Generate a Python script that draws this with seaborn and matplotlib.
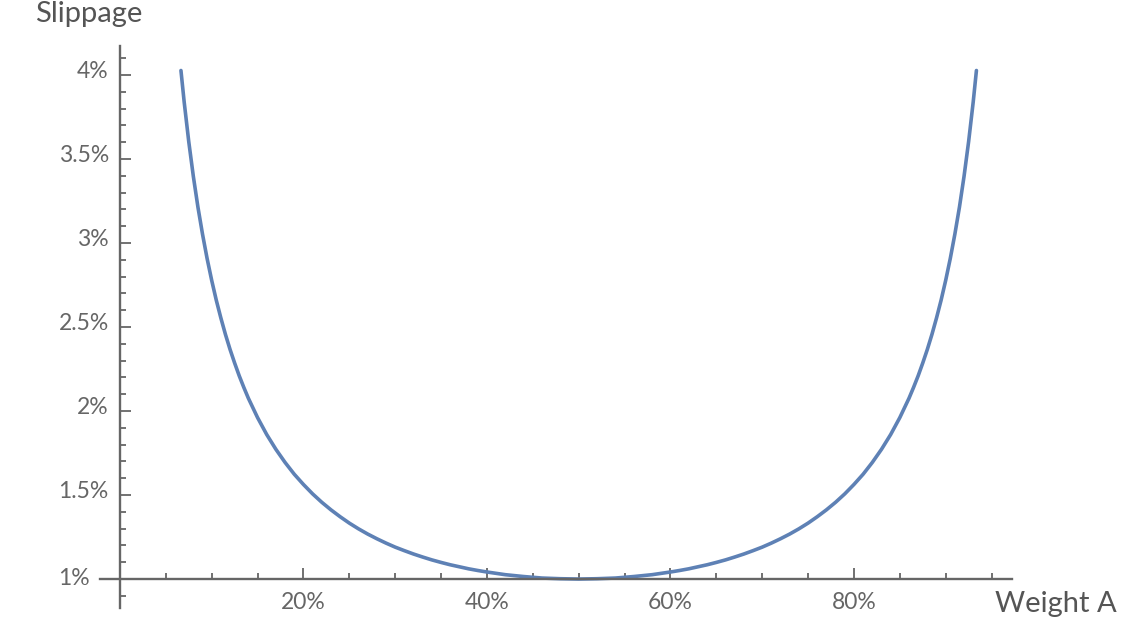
import matplotlib
matplotlib.use("Agg")
import matplotlib.pyplot as plt
import matplotlib.transforms as mtransforms
import seaborn as sns
import pandas as pd

# values (percent)
weight_a = [6.65, 7.0, 7.5, 8.0, 8.5, 9.0, 9.5, 10.0, 10.5, 11.0, 11.5, 12.0, 12.5, 13.0,
            13.5, 14.0, 15.0, 16.0, 17.0, 18.0, 19.0, 20.0, 21.0, 22.0, 23.0, 24.0, 25.0,
            26.0, 27.0, 28.0, 29.0, 30.0, 31.0, 32.0, 33.0, 34.0, 35.0, 36.0, 37.0, 38.0,
            39.0, 40.0, 42.0, 44.0, 46.0, 48.0, 50.0,
            52.0, 54.0, 56.0, 58.0, 60.0, 61.0, 62.0, 63.0, 64.0, 65.0, 66.0, 67.0, 68.0,
            69.0, 70.0, 71.0, 72.0, 73.0, 74.0, 75.0, 76.0, 77.0, 78.0, 79.0, 80.0, 81.0,
            82.0, 83.0, 84.0, 85.0, 86.0, 86.5, 87.0, 87.5, 88.0, 88.5, 89.0, 89.5, 90.0,
            90.5, 91.0, 91.5, 92.0, 92.5, 93.0, 93.35]
slippage = [4.027, 3.840, 3.604, 3.397, 3.214, 3.053, 2.908, 2.778, 2.660, 2.554, 2.456, 2.367,
            2.286, 2.210, 2.141, 2.076, 1.961, 1.860, 1.772, 1.694, 1.624, 1.563, 1.507, 1.457,
            1.412, 1.371, 1.333, 1.299, 1.268, 1.240, 1.214, 1.190, 1.169, 1.149, 1.131, 1.114,
            1.099, 1.085, 1.073, 1.061, 1.051, 1.042, 1.026, 1.015, 1.006, 1.002, 1.000,
            1.002, 1.006, 1.015, 1.026, 1.042, 1.051, 1.061, 1.073, 1.085, 1.099, 1.114, 1.131,
            1.149, 1.169, 1.190, 1.214, 1.240, 1.268, 1.299, 1.333, 1.371, 1.412, 1.457, 1.507,
            1.563, 1.624, 1.694, 1.772, 1.860, 1.961, 2.076, 2.141, 2.210, 2.286, 2.367, 2.456,
            2.554, 2.660, 2.778, 2.908, 3.053, 3.214, 3.397, 3.604, 3.840, 4.027]

x_major = [20, 40, 60, 80]
x_labels = ["20%", "40%", "60%", "80%"]
x_minor = [5, 10, 15, 25, 30, 35, 45, 50, 55, 65, 70, 75, 85, 90, 95]
y_major = [1.0, 1.5, 2.0, 2.5, 3.0, 3.5, 4.0]
y_labels = ["1%", "1.5%", "2%", "2.5%", "3%", "3.5%", "4%"]
y_minor = [0.9, 1.1, 1.2, 1.3, 1.4, 1.6, 1.7, 1.8, 1.9, 2.1, 2.2, 2.3, 2.4, 2.6, 2.7,
           2.8, 2.9, 3.1, 3.2, 3.3, 3.4, 3.6, 3.7, 3.8, 3.9, 4.1]

df = pd.DataFrame({"weight": weight_a, "slippage": slippage})

sns.set_style("white")
plt.rcParams["font.family"] = ["Lato", "DejaVu Sans"]

grey = "#666666"
fig = plt.figure(figsize=(11.4, 6.18), dpi=100)
ax = fig.add_axes([0.0875, 0.0168, 0.800, 0.908])

sns.lineplot(data=df, x="weight", y="slippage", ax=ax, color="#5e81b5",
             linewidth=2.6, sort=False)

ax.set_xlim(-2.2, 97.2)
ax.set_ylim(0.83, 4.17)
ax.spines["top"].set_visible(False)
ax.spines["right"].set_visible(False)
ax.spines["left"].set_position(("data", 0))
ax.spines["bottom"].set_position(("data", 1.0))
for s in ["left", "bottom"]:
    ax.spines[s].set_color(grey)
    ax.spines[s].set_linewidth(1.7)

ax.set_xticks(x_major)
ax.set_xticklabels(x_labels)
ax.set_xticks(x_minor, minor=True)
ax.set_yticks(y_major)
ax.set_yticklabels(y_labels)
ax.set_yticks(y_minor, minor=True)

ax.tick_params(which="both", direction="in", bottom=True, left=True,
               color=grey, labelcolor=grey, width=1.3)
ax.tick_params(which="major", length=8, labelsize=16.5)
ax.tick_params(axis="x", which="major", pad=9)
ax.tick_params(axis="y", which="major", pad=8)
ax.tick_params(which="minor", length=4.5)
ax.set_xlabel("")
ax.set_ylabel("")

# the y labels sit a little above their ticks in the reference,
# and the 1% label is pushed left, clear of the crossing axes
for i, lab in enumerate(ax.get_yticklabels()):
    dx, dy = (-19, 3) if i == 0 else (0, 6)
    shift = mtransforms.ScaledTranslation(dx / 100, dy / 100, fig.dpi_scale_trans)
    lab.set_transform(lab.get_transform() + shift)

fig.text(35 / 1140, 1 - 22 / 618, "Slippage", fontsize=21, color="#555555",
         ha="left", va="baseline")
fig.text(995 / 1140, 1 - 612 / 618, "Weight A", fontsize=21, color="#555555",
         ha="left", va="baseline")

fig.savefig("out.png", dpi=100, facecolor="white")
